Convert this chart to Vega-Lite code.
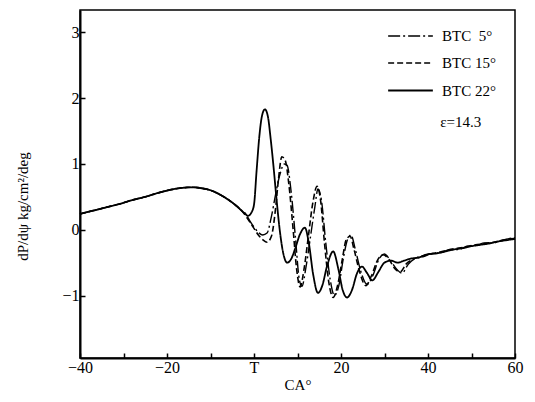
{
  "$schema": "https://vega.github.io/schema/vega-lite/v6.json",
  "width": 435,
  "height": 348,
  "autosize": "none",
  "padding": {"left": 80, "top": 10, "right": 20, "bottom": 44},
  "background": "white",
  "config": {
    "view": {"stroke": "black", "strokeWidth": 1.5},
    "font": "Liberation Serif",
    "axis": {
      "grid": false,
      "domainColor": "black",
      "domainWidth": 2,
      "tickColor": "black",
      "tickWidth": 1.5,
      "tickSize": -5,
      "labelFont": "Liberation Serif",
      "labelFontSize": 16,
      "labelColor": "black",
      "titleFont": "Liberation Serif",
      "titleFontSize": 15,
      "titleFontWeight": "normal",
      "titleColor": "black"
    }
  },
  "data": {"values": [
    {"s":"BTC\u00a0\u00a05°","x":-40,"y":0.24},{"s":"BTC\u00a0\u00a05°","x":-37,"y":0.29},{"s":"BTC\u00a0\u00a05°","x":-34,"y":0.34},{"s":"BTC\u00a0\u00a05°","x":-31,"y":0.39},{"s":"BTC\u00a0\u00a05°","x":-28,"y":0.45},{"s":"BTC\u00a0\u00a05°","x":-25,"y":0.5},{"s":"BTC\u00a0\u00a05°","x":-22,"y":0.56},{"s":"BTC\u00a0\u00a05°","x":-19,"y":0.61},{"s":"BTC\u00a0\u00a05°","x":-16,"y":0.64},{"s":"BTC\u00a0\u00a05°","x":-14,"y":0.645},{"s":"BTC\u00a0\u00a05°","x":-12,"y":0.63},{"s":"BTC\u00a0\u00a05°","x":-10,"y":0.6},{"s":"BTC\u00a0\u00a05°","x":-8,"y":0.54},{"s":"BTC\u00a0\u00a05°","x":-6,"y":0.46},{"s":"BTC\u00a0\u00a05°","x":-4,"y":0.36},{"s":"BTC\u00a0\u00a05°","x":-3,"y":0.3},
    {"s":"BTC\u00a0\u00a05°","x":-2,"y":0.25},{"s":"BTC\u00a0\u00a05°","x":-1,"y":0.14},{"s":"BTC\u00a0\u00a05°","x":0,"y":0.04},{"s":"BTC\u00a0\u00a05°","x":1,"y":-0.04},{"s":"BTC\u00a0\u00a05°","x":2,"y":-0.08},{"s":"BTC\u00a0\u00a05°","x":3,"y":-0.05},{"s":"BTC\u00a0\u00a05°","x":4,"y":0.2},{"s":"BTC\u00a0\u00a05°","x":5,"y":0.55},{"s":"BTC\u00a0\u00a05°","x":6,"y":0.85},{"s":"BTC\u00a0\u00a05°","x":7,"y":1.0},{"s":"BTC\u00a0\u00a05°","x":7.6,"y":0.98},{"s":"BTC\u00a0\u00a05°","x":8.5,"y":0.6},{"s":"BTC\u00a0\u00a05°","x":9.5,"y":-0.1},{"s":"BTC\u00a0\u00a05°","x":10.4,"y":-0.75},{"s":"BTC\u00a0\u00a05°","x":11,"y":-0.86},{"s":"BTC\u00a0\u00a05°","x":12,"y":-0.55},{"s":"BTC\u00a0\u00a05°","x":13,"y":-0.1},{"s":"BTC\u00a0\u00a05°","x":14,"y":0.35},{"s":"BTC\u00a0\u00a05°","x":14.7,"y":0.62},{"s":"BTC\u00a0\u00a05°","x":15.5,"y":0.45},{"s":"BTC\u00a0\u00a05°","x":16.5,"y":-0.2},{"s":"BTC\u00a0\u00a05°","x":17.5,"y":-0.75},{"s":"BTC\u00a0\u00a05°","x":18.5,"y":-1.0},{"s":"BTC\u00a0\u00a05°","x":19.5,"y":-0.85},{"s":"BTC\u00a0\u00a05°","x":20.5,"y":-0.45},{"s":"BTC\u00a0\u00a05°","x":21.5,"y":-0.15},{"s":"BTC\u00a0\u00a05°","x":22.3,"y":-0.08},{"s":"BTC\u00a0\u00a05°","x":23.3,"y":-0.3},{"s":"BTC\u00a0\u00a05°","x":24.5,"y":-0.62},{"s":"BTC\u00a0\u00a05°","x":26,"y":-0.83},{"s":"BTC\u00a0\u00a05°","x":27.3,"y":-0.7},{"s":"BTC\u00a0\u00a05°","x":28.7,"y":-0.45},{"s":"BTC\u00a0\u00a05°","x":30,"y":-0.37},{"s":"BTC\u00a0\u00a05°","x":31.3,"y":-0.46},{"s":"BTC\u00a0\u00a05°","x":32.8,"y":-0.6},{"s":"BTC\u00a0\u00a05°","x":34,"y":-0.66},{"s":"BTC\u00a0\u00a05°","x":35.5,"y":-0.52},{"s":"BTC\u00a0\u00a05°","x":37,"y":-0.44},{"s":"BTC\u00a0\u00a05°","x":39,"y":-0.41},{"s":"BTC\u00a0\u00a05°","x":41,"y":-0.36},{"s":"BTC\u00a0\u00a05°","x":43,"y":-0.35},{"s":"BTC\u00a0\u00a05°","x":45,"y":-0.3},{"s":"BTC\u00a0\u00a05°","x":47,"y":-0.3},{"s":"BTC\u00a0\u00a05°","x":49,"y":-0.25},{"s":"BTC\u00a0\u00a05°","x":51,"y":-0.24},{"s":"BTC\u00a0\u00a05°","x":53,"y":-0.2},{"s":"BTC\u00a0\u00a05°","x":55,"y":-0.2},{"s":"BTC\u00a0\u00a05°","x":57,"y":-0.16},{"s":"BTC\u00a0\u00a05°","x":60,"y":-0.12},

    {"s":"BTC 15°","x":-40,"y":0.24},{"s":"BTC 15°","x":-37,"y":0.29},{"s":"BTC 15°","x":-34,"y":0.34},{"s":"BTC 15°","x":-31,"y":0.39},{"s":"BTC 15°","x":-28,"y":0.45},{"s":"BTC 15°","x":-25,"y":0.5},{"s":"BTC 15°","x":-22,"y":0.56},{"s":"BTC 15°","x":-19,"y":0.61},{"s":"BTC 15°","x":-16,"y":0.64},{"s":"BTC 15°","x":-14,"y":0.645},{"s":"BTC 15°","x":-12,"y":0.63},{"s":"BTC 15°","x":-10,"y":0.6},{"s":"BTC 15°","x":-8,"y":0.54},{"s":"BTC 15°","x":-6,"y":0.46},{"s":"BTC 15°","x":-4,"y":0.36},{"s":"BTC 15°","x":-3,"y":0.3},
    {"s":"BTC 15°","x":-2,"y":0.22},{"s":"BTC 15°","x":-1,"y":0.12},{"s":"BTC 15°","x":0,"y":0.02},{"s":"BTC 15°","x":1,"y":-0.08},{"s":"BTC 15°","x":2,"y":-0.15},{"s":"BTC 15°","x":3,"y":-0.19},{"s":"BTC 15°","x":4,"y":-0.1},{"s":"BTC 15°","x":5,"y":0.35},{"s":"BTC 15°","x":5.6,"y":0.75},{"s":"BTC 15°","x":6.4,"y":1.11},{"s":"BTC 15°","x":7.2,"y":1.05},{"s":"BTC 15°","x":8,"y":0.7},{"s":"BTC 15°","x":9,"y":0.0},{"s":"BTC 15°","x":9.8,"y":-0.6},{"s":"BTC 15°","x":10.6,"y":-0.87},{"s":"BTC 15°","x":11.5,"y":-0.6},{"s":"BTC 15°","x":12.5,"y":-0.1},{"s":"BTC 15°","x":13.5,"y":0.4},{"s":"BTC 15°","x":14.5,"y":0.66},{"s":"BTC 15°","x":15.3,"y":0.45},{"s":"BTC 15°","x":16.2,"y":-0.2},{"s":"BTC 15°","x":17.2,"y":-0.8},{"s":"BTC 15°","x":18.2,"y":-1.03},{"s":"BTC 15°","x":19.2,"y":-0.85},{"s":"BTC 15°","x":20.3,"y":-0.45},{"s":"BTC 15°","x":21.2,"y":-0.15},{"s":"BTC 15°","x":22.1,"y":-0.1},{"s":"BTC 15°","x":23,"y":-0.3},{"s":"BTC 15°","x":24.2,"y":-0.62},{"s":"BTC 15°","x":25.7,"y":-0.85},{"s":"BTC 15°","x":27,"y":-0.7},{"s":"BTC 15°","x":28.5,"y":-0.45},{"s":"BTC 15°","x":29.7,"y":-0.38},{"s":"BTC 15°","x":31,"y":-0.45},{"s":"BTC 15°","x":32.5,"y":-0.6},{"s":"BTC 15°","x":33.6,"y":-0.64},{"s":"BTC 15°","x":35,"y":-0.52},{"s":"BTC 15°","x":36.5,"y":-0.45},{"s":"BTC 15°","x":38,"y":-0.41},{"s":"BTC 15°","x":40,"y":-0.38},{"s":"BTC 15°","x":42,"y":-0.35},{"s":"BTC 15°","x":44,"y":-0.32},{"s":"BTC 15°","x":46,"y":-0.29},{"s":"BTC 15°","x":48,"y":-0.27},{"s":"BTC 15°","x":50,"y":-0.24},{"s":"BTC 15°","x":52,"y":-0.22},{"s":"BTC 15°","x":54,"y":-0.2},{"s":"BTC 15°","x":56,"y":-0.18},{"s":"BTC 15°","x":58,"y":-0.15},{"s":"BTC 15°","x":60,"y":-0.13},

    {"s":"BTC 22°","x":-40,"y":0.24},{"s":"BTC 22°","x":-37,"y":0.29},{"s":"BTC 22°","x":-34,"y":0.34},{"s":"BTC 22°","x":-31,"y":0.39},{"s":"BTC 22°","x":-28,"y":0.45},{"s":"BTC 22°","x":-25,"y":0.5},{"s":"BTC 22°","x":-22,"y":0.56},{"s":"BTC 22°","x":-19,"y":0.61},{"s":"BTC 22°","x":-16,"y":0.64},{"s":"BTC 22°","x":-14,"y":0.645},{"s":"BTC 22°","x":-12,"y":0.63},{"s":"BTC 22°","x":-10,"y":0.6},{"s":"BTC 22°","x":-8,"y":0.54},{"s":"BTC 22°","x":-6,"y":0.46},{"s":"BTC 22°","x":-4,"y":0.36},{"s":"BTC 22°","x":-3,"y":0.3},
    {"s":"BTC 22°","x":-2,"y":0.24},{"s":"BTC 22°","x":-1.4,"y":0.21},{"s":"BTC 22°","x":-0.6,"y":0.26},{"s":"BTC 22°","x":0,"y":0.38},{"s":"BTC 22°","x":0.6,"y":0.9},{"s":"BTC 22°","x":1.2,"y":1.4},{"s":"BTC 22°","x":1.8,"y":1.72},{"s":"BTC 22°","x":2.5,"y":1.83},{"s":"BTC 22°","x":3.2,"y":1.72},{"s":"BTC 22°","x":3.8,"y":1.4},{"s":"BTC 22°","x":4.5,"y":0.95},{"s":"BTC 22°","x":5.2,"y":0.45},{"s":"BTC 22°","x":6,"y":-0.05},{"s":"BTC 22°","x":6.8,"y":-0.38},{"s":"BTC 22°","x":7.6,"y":-0.5},{"s":"BTC 22°","x":8.5,"y":-0.45},{"s":"BTC 22°","x":9.5,"y":-0.28},{"s":"BTC 22°","x":10.5,"y":-0.08},{"s":"BTC 22°","x":11.7,"y":0.03},{"s":"BTC 22°","x":12.6,"y":-0.2},{"s":"BTC 22°","x":13.6,"y":-0.68},{"s":"BTC 22°","x":14.7,"y":-0.96},{"s":"BTC 22°","x":15.7,"y":-0.85},{"s":"BTC 22°","x":16.8,"y":-0.55},{"s":"BTC 22°","x":18.2,"y":-0.33},{"s":"BTC 22°","x":19.4,"y":-0.6},{"s":"BTC 22°","x":20.4,"y":-0.92},{"s":"BTC 22°","x":21.4,"y":-1.03},{"s":"BTC 22°","x":22.5,"y":-0.92},{"s":"BTC 22°","x":23.7,"y":-0.66},{"s":"BTC 22°","x":24.8,"y":-0.56},{"s":"BTC 22°","x":26,"y":-0.66},{"s":"BTC 22°","x":27.2,"y":-0.77},{"s":"BTC 22°","x":28.6,"y":-0.64},{"s":"BTC 22°","x":30,"y":-0.5},{"s":"BTC 22°","x":31.5,"y":-0.47},{"s":"BTC 22°","x":33,"y":-0.5},{"s":"BTC 22°","x":34.5,"y":-0.47},{"s":"BTC 22°","x":36,"y":-0.44},{"s":"BTC 22°","x":38,"y":-0.42},{"s":"BTC 22°","x":40,"y":-0.37},{"s":"BTC 22°","x":42,"y":-0.36},{"s":"BTC 22°","x":44,"y":-0.33},{"s":"BTC 22°","x":46,"y":-0.3},{"s":"BTC 22°","x":48,"y":-0.28},{"s":"BTC 22°","x":50,"y":-0.25},{"s":"BTC 22°","x":52,"y":-0.23},{"s":"BTC 22°","x":54,"y":-0.21},{"s":"BTC 22°","x":56,"y":-0.18},{"s":"BTC 22°","x":58,"y":-0.16},{"s":"BTC 22°","x":60,"y":-0.14}
  ]},
  "layer": [
    {
      "mark": {"type": "line", "color": "black", "interpolate": "monotone"},
      "encoding": {
        "x": {"field": "x", "type": "quantitative",
          "scale": {"domain": [-40, 60], "nice": false, "zero": false},
          "axis": {"title": "CA°", "values": [-40,-30,-20,-10,0,10,20,30,40,50,60],
            "labelExpr": "datum.value == 0 ? 'T' : (datum.value % 20 == 0 ? datum.label : '')",
            "labelPadding": 6, "titlePadding": 2, "labelFlush": false}},
        "y": {"field": "y", "type": "quantitative",
          "scale": {"domain": [-1.95, 3.34], "nice": false, "zero": false},
          "axis": {"title": "dP/dψ kg/cm²/deg", "values": [-1,0,1,2,3], "format": "d", "labelPadding": 6,
            "titleX": -58, "titleY": 196, "titleAngle": -90, "titleAlign": "center", "titleBaseline": "middle"}},
        "detail": {"field": "s"},
        "strokeDash": {"field": "s", "type": "nominal",
          "scale": {"domain": ["BTC\u00a0\u00a05°", "BTC 15°", "BTC 22°"], "range": [[12,3,2,3],[6,3],[1,0]]},
          "legend": {"title": null, "orient": "none", "legendX": 318, "legendY": 14,
            "symbolType": "M-2,0H2", "symbolSize": 500, "symbolStrokeColor": "black", "symbolStrokeWidth": 1.5,
            "labelFont": "Liberation Serif", "labelFontSize": 15, "labelColor": "black", "labelOffset": 19, "rowPadding": 7}},
        "strokeWidth": {"field": "s", "type": "nominal",
          "scale": {"domain": ["BTC\u00a0\u00a05°", "BTC 15°", "BTC 22°"], "range": [1.4, 1.8, 2]}, "legend": null}
      }
    },
    {
      "data": {"values": [{"x": 42.8, "y": 1.64, "t": "ε=14.3"}]},
      "mark": {"type": "text", "align": "left", "baseline": "middle", "font": "Liberation Serif", "fontSize": 15, "color": "black"},
      "encoding": {
        "x": {"field": "x", "type": "quantitative"},
        "y": {"field": "y", "type": "quantitative"},
        "text": {"field": "t"}
      }
    }
  ]
}
